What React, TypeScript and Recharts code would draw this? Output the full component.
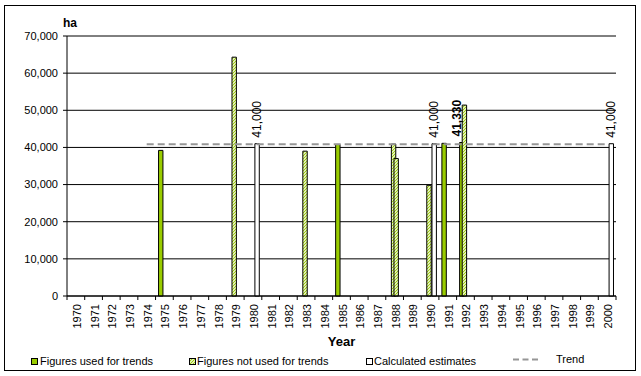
import React from 'react';
import { ComposedChart, Bar, Line, XAxis, YAxis, CartesianGrid, Legend, LabelList } from 'recharts';

const years = [
  '1970', '1971', '1972', '1973', '1974', '1975', '1976', '1977', '1978', '1979',
  '1980', '1981', '1982', '1983', '1984', '1985', '1986', '1987', '1988', '1989',
  '1990', '1991', '1992', '1993', '1994', '1995', '1996', '1997', '1998', '1999', '2000',
];

// Figures used for trends (green)
const usedForTrends: [string, number][] = [
  ['1975', 39200], ['1985', 40800], ['1991', 41100], ['1992', 41330],
];
// Figures not used for trends (hatched), first source
const notUsedA: [string, number][] = [
  ['1979', 64300], ['1983', 39000], ['1988', 40900], ['1990', 29800], ['1992', 51400],
];
// Figures not used for trends (hatched), second source
const notUsedB: [string, number][] = [['1988', 37000]];
// Calculated estimates (white)
const calculated: [string, number][] = [['1980', 41000], ['1990', 41000], ['2000', 41000]];

const trendStart = '1974';
const trendEnd = '2000';
const trendLevel = 40850;

const yTicks = [0, 10000, 20000, 30000, 40000, 50000, 60000, 70000];
const labelledUsedValues = [41330];

const NAME_USED = 'Figures used for trends';
const NAME_NOT = 'Figures not used for trends';
const NAME_CALC = 'Calculated estimates';
const NAME_TREND = 'Trend';

const pick = (list: [string, number][], y: string) => {
  const f = list.find((e) => e[0] === y);
  return f ? f[1] : null;
};

const data = years.map((y) => ({
  year: y,
  used: pick(usedForTrends, y),
  notA: pick(notUsedA, y),
  notB: pick(notUsedB, y),
  calc: pick(calculated, y),
  trend: y >= trendStart && y <= trendEnd ? trendLevel : null,
}));

const FONT = '"Liberation Sans", Arial, Helvetica, sans-serif';
const GREEN = '#99CC00';

const fmt = (v: number) => Number(v).toLocaleString('en-US');

const XTick = (props: any) => {
  const { x, y, payload, index } = props;
  const off = payload && payload.offset != null ? payload.offset : 0;
  const isLast = index === years.length - 1;
  const tx = x + 5;
  const ty = y + 8;
  return (
    <g>
      <line x1={x - off} y1={y} x2={x - off} y2={y + 4} stroke="#000" />
      {isLast && <line x1={x + off} y1={y} x2={x + off} y2={y + 4} stroke="#000" />}
      <text
        x={tx}
        y={ty}
        transform={`rotate(-90, ${tx}, ${ty})`}
        textAnchor="end"
        fontSize={11}
        fontFamily={FONT}
        fill="#000"
      >
        {payload.value}
      </text>
    </g>
  );
};

const HaLabel = (props: any) => {
  const vb = props.viewBox || {};
  return (
    <text x={vb.x + vb.width + 3} y={vb.y - 9} textAnchor="middle" fontSize={12} fontWeight="bold" fontFamily={FONT} fill="#000">
      ha
    </text>
  );
};

const YearLabel = (props: any) => {
  const vb = props.viewBox || {};
  return (
    <text x={vb.x + vb.width / 2} y={vb.y + vb.height - 10} textAnchor="middle" fontSize={13} fontWeight="bold" fontFamily={FONT} fill="#000">
      Year
    </text>
  );
};

const rotatedLabel = (x: number, y: number, text: string, bold: boolean) => (
  <text
    x={x}
    y={y}
    transform={`rotate(-90, ${x}, ${y})`}
    textAnchor="start"
    fontSize={12}
    fontWeight={bold ? 'bold' : 'normal'}
    fontFamily={FONT}
    fill="#000"
  >
    {text}
  </text>
);

const CalcLabel = (props: any) => {
  const { x, y, width, value } = props;
  if (value == null || x == null) return null;
  return rotatedLabel(x + width / 2 + 3.5, y - 6, fmt(value), false);
};

const UsedLabel = (props: any) => {
  const { x, y, width, value } = props;
  if (value == null || x == null) return null;
  if (!labelledUsedValues.includes(Number(value))) return null;
  return rotatedLabel(x + width / 2 - 1, y - 6, fmt(value), true);
};

const LegendContent = () => (
  <svg width={641} height={24} style={{ overflow: 'visible', display: 'block' }}>
    <rect x={31.5} y={8.5} width={6} height={6} fill={GREEN} stroke="#000" />
    <text x={40} y={14.5} fontSize={11} fontFamily={FONT} fill="#000">{NAME_USED}</text>
    <rect x={189.5} y={8.5} width={6} height={6} fill="url(#hatch)" stroke="#000" />
    <text x={197} y={14.5} fontSize={11} fontFamily={FONT} fill="#000">{NAME_NOT}</text>
    <rect x={366.5} y={8.5} width={6} height={6} fill="#fff" stroke="#000" />
    <text x={374} y={14.5} fontSize={11} fontFamily={FONT} fill="#000">{NAME_CALC}</text>
    <line x1={513} y1={9.5} x2={538} y2={9.5} stroke="#969696" strokeWidth={2} strokeDasharray="6 3.5" />
    <text x={556} y={12.7} fontSize={11} fontFamily={FONT} fill="#000">{NAME_TREND}</text>
  </svg>
);

export default function App() {
  return (
    <div style={{ position: 'absolute', left: 0, top: 0, width: 641, height: 376, background: '#fff', fontFamily: FONT }}>
      <div
        style={{
          position: 'absolute', left: 4, top: 5, width: 632, height: 366,
          boxSizing: 'border-box', border: '1px solid #000',
        }}
      />
      <div style={{ position: 'absolute', left: 0, top: 0 }}>
        <ComposedChart
          width={641}
          height={376}
          data={data}
          margin={{ top: 36, right: 25, bottom: 20, left: 0 }}
          barSize={4.4}
          barGap={-1.8}
        >
          <defs>
            <pattern id="hatch" patternUnits="userSpaceOnUse" width={3} height={3}>
              <rect width={3} height={3} fill="#fff" />
              <path d="M-1,1 L1,-1 M0,3 L3,0 M2,4 L4,2" stroke={GREEN} strokeWidth={1.1} />
            </pattern>
          </defs>
          <CartesianGrid vertical={false} stroke="#000" />
          <XAxis
            dataKey="year"
            interval={0}
            tickLine={false}
            tickSize={0}
            tickMargin={0}
            height={60}
            axisLine={{ stroke: '#000' }}
            tick={<XTick />}
            label={<YearLabel />}
          />
          <YAxis
            width={67}
            domain={[0, 70000]}
            ticks={yTicks}
            interval={0}
            tickSize={4}
            tickMargin={5}
            axisLine={{ stroke: '#000' }}
            tickLine={{ stroke: '#000' }}
            tick={{ fill: '#000', fontSize: 11, fontFamily: FONT }}
            tickFormatter={fmt}
            label={<HaLabel />}
          />
          <Bar dataKey="used" name={NAME_USED} fill={GREEN} stroke="#000" strokeWidth={1} barSize={4.4} isAnimationActive={false}>
            <LabelList dataKey="used" content={UsedLabel} />
          </Bar>
          <Bar dataKey="notA" name={NAME_NOT} fill="url(#hatch)" stroke="#000" strokeWidth={1} barSize={4.4} isAnimationActive={false} />
          <Bar dataKey="notB" name={NAME_NOT} fill="url(#hatch)" stroke="#000" strokeWidth={1} barSize={4.4} legendType="none" isAnimationActive={false} />
          <Bar dataKey="calc" name={NAME_CALC} fill="#fff" stroke="#000" strokeWidth={1} barSize={4.4} isAnimationActive={false}>
            <LabelList dataKey="calc" content={CalcLabel} />
          </Bar>
          <Line
            dataKey="trend"
            name={NAME_TREND}
            stroke="#969696"
            strokeWidth={2}
            strokeDasharray="7 4"
            dot={false}
            activeDot={false}
            isAnimationActive={false}
          />
          <Legend
            verticalAlign="middle"
            align="center"
            layout="horizontal"
            wrapperStyle={{ top: 350, left: 0, width: 641, height: 24 }}
            content={LegendContent}
          />
        </ComposedChart>
      </div>
    </div>
  );
}
